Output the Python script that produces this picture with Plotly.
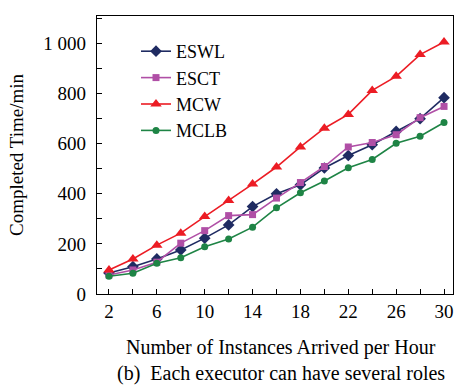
import plotly.graph_objects as go

x_vals = [2, 4, 6, 8, 10, 12, 14, 16, 18, 20, 22, 24, 26, 28, 30]
eswl = [84, 109, 140, 176, 223, 276, 349, 400, 436, 503, 553, 596, 649, 700, 784]
esct = [76, 96, 127, 203, 253, 313, 317, 383, 445, 509, 587, 605, 636, 704, 749]
mcw = [96, 140, 195, 243, 309, 373, 439, 507, 587, 662, 717, 813, 869, 956, 1006]
mclb = [71, 83, 123, 145, 189, 220, 267, 344, 404, 451, 504, 537, 602, 630, 685]

series = [
    ("ESWL", eswl, "#1f2b62", "diamond", 9),
    ("ESCT", esct, "#b04fa6", "square", 7),
    ("MCW", mcw, "#ec1c24", "triangle-up", 10),
    ("MCLB", mclb, "#1e8445", "circle", 7),
]

x_ticks = [2, 6, 10, 14, 18, 22, 26, 30]
y_ticks = [0, 200, 400, 600, 800, 1000]
y_ticktext = ["0", "200", "400", "600", "800", "1 000"]

FF = "Liberation Serif"

fig = go.Figure()
for name, vals, color, sym, sz in series:
    fig.add_trace(go.Scatter(
        x=x_vals, y=vals, name=name, mode="lines+markers",
        line=dict(color=color, width=1.6),
        marker=dict(symbol=sym, size=sz, color=color),
    ))

W, H = 456, 387
ML, MR, MT, MB = 97, 3, 16, 93
PW, PH = W - ML - MR, H - MT - MB

def px_x(px):
    return (px - ML) / PW

def px_y(py):
    return (H - MB - py) / PH

fig.update_layout(
    width=W, height=H,
    margin=dict(l=ML, r=MR, t=MT, b=MB),
    paper_bgcolor="white", plot_bgcolor="white",
    font=dict(family=FF, size=19, color="black"),
    showlegend=True,
    legend=dict(x=px_x(136), y=px_y(33),
                xanchor="left", yanchor="top",
                bgcolor="rgba(0,0,0,0)", font=dict(family=FF, size=18),
                tracegroupgap=0, itemwidth=30),
    xaxis=dict(
        range=[1, 30.75], tickvals=x_ticks, ticks="inside", ticklen=5,
        tickcolor="black", showline=True, linecolor="black", linewidth=1.2,
        mirror=True, showgrid=False, zeroline=False,
        tickfont=dict(family=FF, size=19),
        minor=dict(ticks="inside", tick0=2, dtick=2, ticklen=5, tickcolor="black", showgrid=False),
    ),
    yaxis=dict(
        range=[0, 1110], tickvals=y_ticks, ticktext=y_ticktext, ticks="inside", ticklen=5,
        tickcolor="black", showline=True, linecolor="black", linewidth=1.2,
        mirror=True, showgrid=False, zeroline=False,
        tickfont=dict(family=FF, size=19), ticklabelstandoff=6,
        minor=dict(ticks="inside", tick0=0, dtick=100, ticklen=5, tickcolor="black", showgrid=False),
        title=dict(text="Completed Time/min", font=dict(family=FF, size=19), standoff=14),
    ),
    annotations=[
        dict(text="Number of Instances Arrived per Hour",
             x=px_x(281), y=px_y(347), xref="paper", yref="paper", showarrow=False,
             font=dict(family=FF, size=20), xanchor="center", yanchor="middle"),
        dict(text="(b)  Each executor can have several roles",
             x=px_x(281), y=px_y(373), xref="paper", yref="paper", showarrow=False,
             font=dict(family=FF, size=20), xanchor="center", yanchor="middle"),
    ],
)

fig.write_html("out.html", config={"displayModeBar": False},
               post_script="document.body.style.margin='0';document.body.style.padding='0';")
